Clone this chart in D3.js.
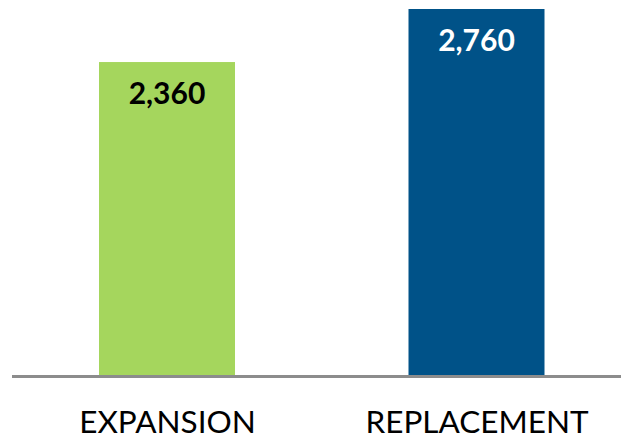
<!DOCTYPE html>
<html><head><meta charset="utf-8">
<script src="https://cdn.jsdelivr.net/npm/d3@7"></script>
<style>html,body{margin:0;padding:0;background:#fff;}svg{display:block;}</style>
</head><body>
<svg id="chart" width="621" height="440"></svg>
<script>
const categories = ["EXPANSION", "REPLACEMENT"];
const values = [2360, 2760];
const valueLabels = ["2,360", "2,760"];
const barColors = ["#a5d65d", "#005288"];
const labelColors = ["#000000", "#ffffff"];

const svg = d3.select("#chart");
const y = d3.scaleLinear().domain([0, 2760]).range([375, 9]);
const centers = d3.scalePoint().domain(categories).range([167, 476.5]);
const bw = 136;

svg.selectAll("rect.bar").data(categories).join("rect")
  .attr("class", "bar")
  .attr("x", d => centers(d) - bw / 2)
  .attr("width", bw)
  .attr("y", (d, i) => y(values[i]))
  .attr("height", (d, i) => y(0) - y(values[i]))
  .attr("fill", (d, i) => barColors[i]);

svg.append("line").attr("x1", 12).attr("x2", 621).attr("y1", 376.5).attr("y2", 376.5)
  .attr("stroke", "#8c8c8c").attr("stroke-width", 3);

svg.selectAll("text.val").data(categories).join("text")
  .attr("class", "val")
  .attr("x", d => centers(d))
  .attr("y", (d, i) => y(values[i]) + 41.5)
  .attr("text-anchor", "middle")
  .attr("font-family", "Lato, sans-serif")
  .attr("font-weight", "bold")
  .attr("font-size", 30)
  .attr("fill", (d, i) => labelColors[i])
  .text((d, i) => valueLabels[i]);

const xAxis = d3.axisBottom(centers).tickSize(0).tickPadding(0);
const g = svg.append("g").attr("transform", "translate(0,433)").call(xAxis);
g.select(".domain").remove();
g.selectAll("text")
  .attr("font-family", "Lato, sans-serif")
  .attr("font-size", 31.5)
  .attr("fill", "#000")
  .attr("y", 0)
  .attr("dy", 0);
</script>
</body></html>
